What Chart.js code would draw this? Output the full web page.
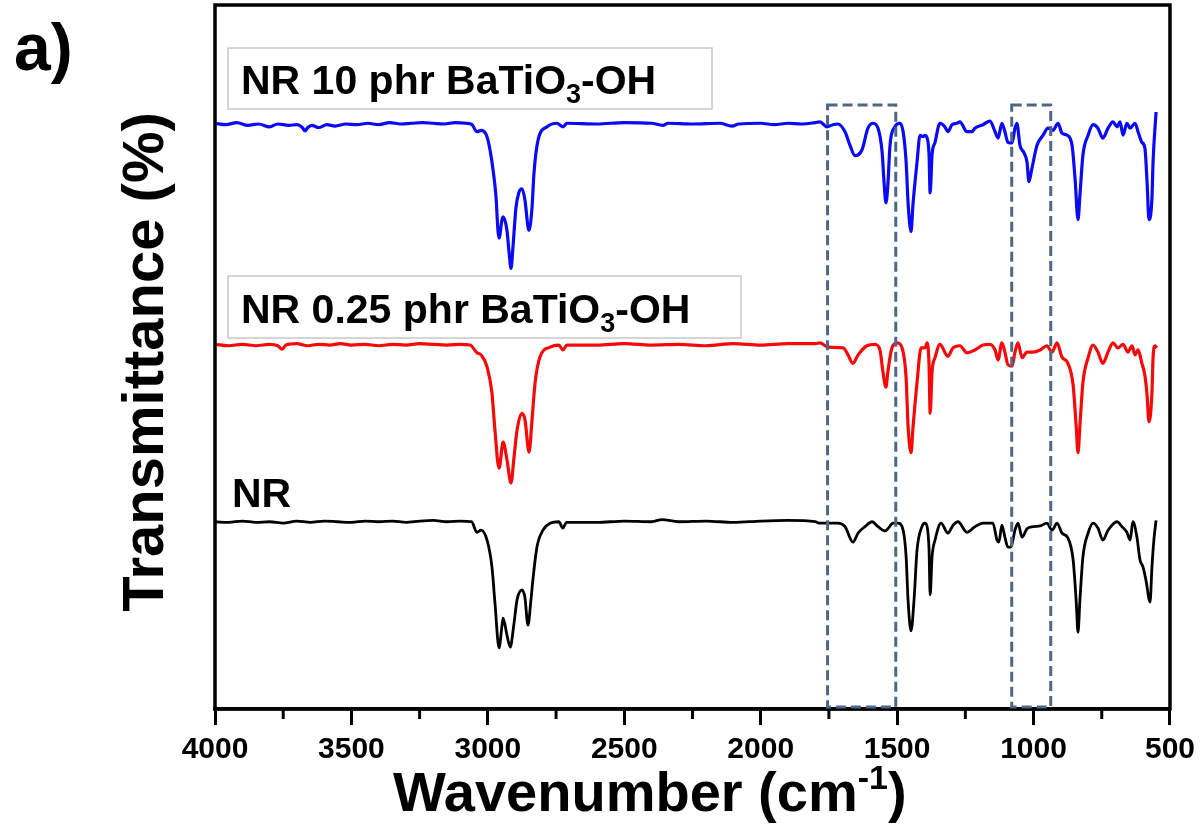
<!DOCTYPE html>
<html lang="en">
<head>
    <meta charset="UTF-8">
    <title>FTIR spectra - NR / BaTiO3-OH</title>
    <script src="https://cdn.jsdelivr.net/npm/chart.js"></script>
    <style>
        body {
            margin: 0;
            background: #fff;
        }
        #wrap {
            width: 1202px;
            height: 831px;
        }
    </style>
</head>
<body>
    <div id="wrap"><canvas id="ftirChart"></canvas></div>

    <script>
        // NR 10 phr BaTiO3-OH (blue, top trace)
        const nr10Wave = [4000, 3960, 3920, 3880, 3840, 3800, 3770, 3730, 3700, 3680, 3670, 3660, 3645, 3620, 3590, 3560,
            3520, 3480, 3440, 3400, 3360, 3320, 3280, 3240, 3200, 3160, 3120, 3080, 3058, 3040, 3025, 3005, 2992, 2981,
            2970, 2963, 2959, 2948, 2944, 2930, 2922, 2915, 2908, 2897, 2886, 2875, 2864, 2853, 2849, 2838, 2831, 2816,
            2783, 2747, 2725, 2710, 2600, 2500, 2400, 2358, 2340, 2250, 2150, 2105, 2080, 2000, 1950, 1900, 1850, 1800,
            1783, 1757, 1735, 1717, 1691, 1673, 1654, 1629, 1607, 1588, 1570, 1555, 1548, 1541, 1534, 1526, 1508, 1490,
            1478, 1467, 1460, 1449, 1442, 1427, 1416, 1405, 1398, 1390, 1383, 1379, 1372, 1361, 1343, 1325, 1314, 1299,
            1281, 1270, 1244, 1226, 1215, 1185, 1160, 1141, 1130, 1116, 1105, 1094, 1079, 1068, 1061, 1050, 1035, 1024,
            1017, 1006, 987, 965, 947, 929, 910, 896, 877, 859, 848, 837, 830, 819, 800, 782, 764, 746, 727, 709, 694,
            683, 672, 658, 646, 628, 617, 603, 592, 584, 577, 566, 562, 551];
        const nr10T = [83.2, 83.0, 83.3, 82.9, 83.1, 82.7, 83.1, 82.9, 83.0, 82.6, 82.1, 82.6, 82.9, 82.6, 83.0, 82.8,
            83.1, 83.0, 83.2, 83.0, 83.3, 83.1, 83.2, 83.3, 83.2, 83.1, 83.3, 83.2, 83.0, 82.0, 82.2, 81.5, 79.4, 76.6,
            72.7, 68.0, 66.9, 69.5, 69.9, 68.0, 64.8, 62.6, 65.6, 71.2, 73.4, 73.9, 72.3, 68.5, 68.0, 71.3, 76.1, 80.8,
            82.7, 83.2, 82.7, 83.2, 83.1, 83.3, 83.2, 82.9, 83.2, 83.1, 83.2, 82.8, 83.1, 83.2, 83.0, 83.2, 83.1, 83.3,
            83.4, 82.7, 83.0, 83.1, 82.0, 80.1, 78.6, 79.4, 82.5, 83.2, 82.5, 79.1, 74.9, 71.9, 74.4, 80.1, 82.7, 83.2,
            82.0, 77.7, 72.0, 67.8, 71.6, 77.7, 81.5, 81.3, 81.5, 81.1, 78.7, 73.3, 78.7, 80.5, 83.2, 82.7, 82.0, 83.0,
            83.2, 83.4, 82.0, 82.0, 82.5, 83.0, 83.5, 82.0, 81.1, 83.2, 82.0, 80.5, 80.4, 82.5, 83.2, 80.1, 79.0, 77.7,
            74.9, 76.8, 80.1, 81.5, 82.5, 82.2, 83.2, 81.8, 81.5, 80.1, 75.4, 69.5, 73.0, 78.7, 81.5, 83.0, 82.5, 81.1,
            82.5, 83.4, 82.7, 83.4, 81.5, 83.2, 82.5, 83.2, 82.0, 80.5, 79.7, 74.9, 69.5, 72.6, 77.7, 84.8];

        // NR 0.25 phr BaTiO3-OH (red, middle trace)
        const nr025Wave = [4000, 3950, 3900, 3850, 3800, 3770, 3754, 3740, 3700, 3660, 3620, 3580, 3540, 3500, 3450, 3400,
            3350, 3300, 3250, 3200, 3150, 3100, 3065, 3040, 3025, 3003, 2985, 2974, 2959, 2944, 2930, 2915, 2905, 2893,
            2875, 2864, 2849, 2838, 2827, 2809, 2772, 2740, 2725, 2710, 2600, 2500, 2400, 2300, 2200, 2100, 2000, 1900,
            1800, 1783, 1753, 1698, 1680, 1662, 1643, 1611, 1581, 1563, 1552, 1541, 1534, 1519, 1500, 1482, 1467, 1460,
            1449, 1442, 1427, 1412, 1398, 1390, 1383, 1379, 1372, 1361, 1343, 1314, 1295, 1270, 1244, 1215, 1185, 1160,
            1141, 1130, 1116, 1105, 1094, 1079, 1068, 1057, 1042, 1024, 1002, 976, 951, 932, 914, 896, 874, 855, 844,
            837, 830, 819, 800, 782, 764, 746, 727, 709, 691, 672, 654, 639, 628, 617, 603, 592, 584, 577, 566, 562,
            555, 548];
        const nr025T = [51.8, 51.6, 51.8, 51.6, 51.8, 51.6, 51.1, 51.7, 51.9, 51.6, 51.8, 51.7, 51.9, 51.7, 51.8, 51.6,
            51.8, 51.7, 51.9, 51.8, 51.7, 51.8, 51.7, 50.6, 50.3, 48.6, 44.9, 39.6, 34.2, 37.9, 35.4, 32.1, 35.4, 39.6,
            42.0, 41.1, 36.5, 41.1, 46.3, 50.0, 51.4, 51.7, 51.0, 51.7, 51.7, 51.9, 51.7, 51.8, 51.6, 51.9, 51.7, 51.9,
            51.9, 52.0, 51.4, 51.3, 50.3, 49.1, 50.3, 51.6, 51.8, 51.0, 47.9, 45.7, 47.9, 51.3, 52.0, 51.3, 47.0, 40.3,
            36.4, 39.9, 46.4, 51.3, 51.3, 52.0, 48.9, 42.0, 47.9, 49.9, 51.8, 50.1, 51.3, 51.6, 50.6, 51.0, 51.7, 51.8,
            51.0, 49.6, 52.0, 50.7, 48.9, 48.7, 50.7, 52.0, 49.9, 50.7, 50.7, 51.0, 51.6, 50.7, 52.0, 50.0, 49.1, 46.0, 40.3,
            36.4, 40.3, 46.4, 49.9, 51.7, 50.7, 49.1, 50.7, 52.0, 51.3, 51.8, 50.7, 51.6, 50.3, 51.0, 49.1, 47.4, 44.6,
            40.8, 45.0, 49.9, 51.6, 51.3];

        // NR (black, bottom trace)
        const nrWave = [4000, 3950, 3900, 3850, 3800, 3750, 3700, 3650, 3600, 3550, 3500, 3450, 3400, 3350, 3300, 3250,
            3200, 3150, 3100, 3060, 3040, 3025, 3003, 2985, 2974, 2959, 2948, 2944, 2930, 2918, 2905, 2893, 2875, 2864,
            2853, 2842, 2835, 2820, 2798, 2772, 2740, 2725, 2712, 2600, 2500, 2400, 2362, 2300, 2200, 2100, 2000, 1900,
            1800, 1783, 1746, 1717, 1691, 1662, 1643, 1618, 1592, 1570, 1544, 1534, 1515, 1497, 1478, 1467, 1460, 1449,
            1438, 1427, 1409, 1398, 1390, 1383, 1379, 1372, 1361, 1339, 1314, 1295, 1277, 1244, 1215, 1185, 1149, 1134,
            1127, 1116, 1105, 1094, 1083, 1068, 1057, 1042, 1024, 1002, 976, 951, 932, 914, 896, 874, 855, 844, 837, 830,
            819, 800, 782, 764, 746, 727, 694, 676, 658, 646, 636, 621, 610, 599, 588, 573, 566, 559, 551];
        const nrT = [26.6, 26.5, 26.7, 26.5, 26.6, 26.4, 26.7, 26.5, 26.7, 26.6, 26.5, 26.7, 26.6, 26.7, 26.5, 26.7,
            26.8, 26.6, 26.7, 26.6, 25.1, 25.4, 24.0, 20.2, 15.1, 8.7, 11.9, 12.9, 10.5, 8.8, 11.9, 15.5, 16.9, 15.8,
            11.9, 15.5, 18.3, 23.0, 25.4, 26.4, 26.6, 25.7, 26.5, 26.5, 26.7, 26.6, 26.9, 26.6, 26.7, 26.5, 26.7, 26.8,
            26.6, 26.4, 26.4, 26.4, 25.9, 23.7, 25.0, 25.9, 26.6, 25.9, 25.3, 25.6, 26.4, 26.4, 25.4, 21.6, 15.5, 11.1,
            15.5, 22.6, 25.9, 26.4, 25.9, 22.6, 16.2, 21.6, 24.0, 26.4, 25.0, 26.1, 26.6, 25.1, 25.9, 26.4, 26.4, 24.0,
            23.7, 26.1, 24.4, 23.0, 23.0, 25.4, 26.4, 24.4, 25.6, 25.9, 26.0, 26.4, 25.4, 26.4, 25.0, 24.3, 21.2, 15.5,
            10.9, 15.5, 21.6, 25.0, 26.4, 25.7, 24.0, 25.4, 26.6, 25.9, 25.1, 24.0, 26.6, 24.4, 21.2, 20.2, 18.3, 15.2,
            20.2, 24.0, 26.8];

        // x axis ticks (cm-1)
        const majorTicks = [4000, 3500, 3000, 2500, 2000, 1500, 1000, 500];
        const minorTicks = [3750, 3250, 2750, 2250, 1750, 1250, 750];

        // highlighted regions [from, to] in cm-1
        const regions = [[1755, 1505], [1080, 937]];

        function toPoints(wave, t) {
            return wave.map((w, i) => ({ x: w, y: t[i] }));
        }

        // draws text made of parts, some of them sub/superscript
        function drawParts(ctx, x, y, parts) {
            parts.forEach(p => {
                ctx.font = "bold " + p.size + "px 'Liberation Sans', Arial, sans-serif";
                ctx.fillText(p.text, x, y + (p.dy || 0));
                x += ctx.measureText(p.text).width;
            });
        }

        const decorations = {
            id: "decorations",
            afterDraw(chart) {
                const ctx = chart.ctx;
                const area = chart.chartArea;
                const xs = chart.scales.x;
                const ys = chart.scales.y;
                ctx.save();

                // frame
                ctx.strokeStyle = "#000";
                ctx.lineWidth = 3.5;
                ctx.strokeRect(area.left, area.top, area.right - area.left, area.bottom - area.top);

                // minor ticks
                ctx.lineWidth = 3;
                minorTicks.forEach(v => {
                    const px = xs.getPixelForValue(v);
                    ctx.beginPath();
                    ctx.moveTo(px, area.bottom);
                    ctx.lineTo(px, area.bottom + 10);
                    ctx.stroke();
                });

                // dashed boxes
                ctx.strokeStyle = "#4d6787";
                ctx.lineWidth = 3;
                ctx.setLineDash([10, 5]);
                const top = ys.getPixelForValue(85.8);
                const bottom = ys.getPixelForValue(0.3);
                regions.forEach(r => {
                    const l = xs.getPixelForValue(r[0]);
                    const rr = xs.getPixelForValue(r[1]);
                    ctx.strokeRect(l, top, rr - l, bottom - top);
                });
                ctx.setLineDash([]);

                // legend boxes
                ctx.strokeStyle = "#c8c8c8";
                ctx.lineWidth = 1.5;
                ctx.strokeRect(228, 48, 484, 61);
                ctx.strokeRect(228, 276, 513, 62);

                ctx.fillStyle = "#000";
                ctx.textAlign = "left";
                ctx.textBaseline = "alphabetic";
                drawParts(ctx, 241, 94, [
                    { text: "NR 10 phr BaTiO", size: 41 },
                    { text: "3", size: 27, dy: 9 },
                    { text: "-OH", size: 41 }
                ]);
                drawParts(ctx, 241, 323, [
                    { text: "NR 0.25 phr BaTiO", size: 41 },
                    { text: "3", size: 27, dy: 9 },
                    { text: "-OH", size: 41 }
                ]);
                drawParts(ctx, 232, 507, [{ text: "NR", size: 41 }]);

                // panel letter
                drawParts(ctx, 14, 70, [{ text: "a)", size: 66 }]);

                // x axis title
                drawParts(ctx, 393, 811, [
                    { text: "Wavenumber (cm", size: 56 },
                    { text: "-1", size: 34, dy: -22 },
                    { text: ")", size: 56 }
                ]);

                // y axis title
                ctx.translate(163, 362);
                ctx.rotate(-Math.PI / 2);
                ctx.textAlign = "center";
                ctx.font = "bold 58px 'Liberation Sans', Arial, sans-serif";
                ctx.fillText("Transmittance (%)", 0, 0);

                ctx.restore();
            }
        };

        function createChart() {
            const ctx = document.getElementById("ftirChart").getContext("2d");
            Chart.defaults.font.family = "'Liberation Sans', Arial, sans-serif";

            new Chart(ctx, {
                type: "line",
                data: {
                    datasets: [{
                        label: "NR 10 phr BaTiO3-OH",
                        data: toPoints(nr10Wave, nr10T),
                        borderColor: "#0a0af5",
                        borderWidth: 3.2
                    }, {
                        label: "NR 0.25 phr BaTiO3-OH",
                        data: toPoints(nr025Wave, nr025T),
                        borderColor: "#f50a0a",
                        borderWidth: 3.2
                    }, {
                        label: "NR",
                        data: toPoints(nrWave, nrT),
                        borderColor: "#000000",
                        borderWidth: 2.8
                    }]
                },
                options: {
                    responsive: true,
                    maintainAspectRatio: false,
                    animation: false,
                    layout: {
                        padding: { left: 215, right: 32, top: 5, bottom: 0 }
                    },
                    elements: {
                        point: { radius: 0 },
                        line: { cubicInterpolationMode: "monotone", fill: false }
                    },
                    plugins: {
                        legend: { display: false },
                        tooltip: { enabled: false }
                    },
                    scales: {
                        x: {
                            type: "linear",
                            reverse: true,
                            min: 500,
                            max: 4000,
                            afterFit: s => { s.height = 122; },
                            afterBuildTicks: s => { s.ticks = majorTicks.map(v => ({ value: v })); },
                            ticks: {
                                color: "#000",
                                padding: 7,
                                maxRotation: 0,
                                font: { size: 30, weight: "bold" },
                                callback: v => String(v)
                            },
                            grid: {
                                drawOnChartArea: false,
                                tickLength: 16,
                                tickWidth: 3,
                                tickColor: "#000"
                            },
                            border: { display: true, color: "#000", width: 3.5 }
                        },
                        y: {
                            display: false,
                            min: 0,
                            max: 100
                        }
                    }
                },
                plugins: [decorations]
            });
        }

        createChart();
    </script>
</body>
</html>
